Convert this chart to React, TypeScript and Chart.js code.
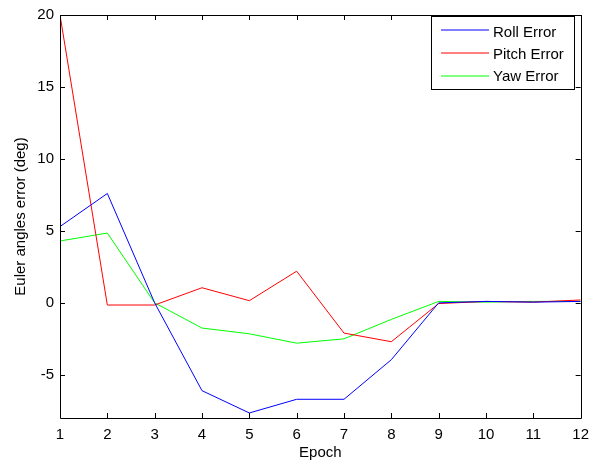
import React, { useEffect, useRef } from "react";
import { Chart, registerables } from "chart.js";

Chart.register(...registerables);

const epochs = [1, 2, 3, 4, 5, 6, 7, 8, 9, 10, 11, 12];
const rollError = [5.3, 7.6, 0.0, -6.1, -7.65, -6.7, -6.7, -3.95, 0.0, 0.1, 0.05, 0.1];
const pitchError = [20.0, -0.15, -0.15, 1.05, 0.15, 2.2, -2.1, -2.7, -0.05, 0.1, 0.05, 0.2];
const yawError = [4.3, 4.85, 0.0, -1.75, -2.15, -2.8, -2.5, -1.15, 0.1, 0.05, 0.1, 0.1];
const xTicks = [1, 2, 3, 4, 5, 6, 7, 8, 9, 10, 11, 12];
const yTicks = [-5, 0, 5, 10, 15, 20];
const seriesNames = ["Roll Error", "Pitch Error", "Yaw Error"];
const seriesColors = ["#0000ff", "#ff0000", "#00ff00"];

const FONT = "Arial, 'Liberation Sans', sans-serif";

const boxPlugin = {
  id: "matlabBox",
  afterDatasetsDraw(chart: any) {
    const { ctx, chartArea } = chart;
    const { left, right, top, bottom } = chartArea;
    const xs = chart.scales.x;
    const ys = chart.scales.y;
    ctx.save();
    ctx.strokeStyle = "#000";
    ctx.lineWidth = 1;
    ctx.beginPath();
    ctx.rect(Math.round(left) + 0.5, Math.round(top) + 0.5, Math.round(right - left), Math.round(bottom - top));
    ctx.stroke();
    const tl = 5;
    ctx.beginPath();
    for (const v of xTicks) {
      const px = Math.round(xs.getPixelForValue(v)) + 0.5;
      ctx.moveTo(px, bottom);
      ctx.lineTo(px, bottom - tl);
      ctx.moveTo(px, top);
      ctx.lineTo(px, top + tl);
    }
    for (const v of yTicks) {
      const py = Math.round(ys.getPixelForValue(v)) + 0.5;
      ctx.moveTo(left, py);
      ctx.lineTo(left + tl, py);
      ctx.moveTo(right, py);
      ctx.lineTo(right - tl, py);
    }
    ctx.stroke();

    // legend
    const lx = 431.5, ly = 16.5, lw = 143, lh = 73;
    ctx.fillStyle = "#fff";
    ctx.fillRect(lx, ly, lw, lh);
    ctx.strokeStyle = "#000";
    ctx.strokeRect(lx, ly, lw, lh);
    ctx.font = "15px " + FONT;
    ctx.textBaseline = "middle";
    ctx.textAlign = "left";
    const textRows = [33, 54.5, 76.5];
    const lineRows = [30, 53, 76];
    seriesNames.forEach((name, i) => {
      ctx.strokeStyle = seriesColors[i];
      ctx.beginPath();
      ctx.moveTo(441, lineRows[i]);
      ctx.lineTo(489, lineRows[i]);
      ctx.stroke();
      ctx.fillStyle = "#000";
      ctx.fillText(name, 493, textRows[i]);
    });
    ctx.restore();
  },
};

export default function App() {
  const ref = useRef<HTMLCanvasElement>(null);
  useEffect(() => {
    document.body.style.margin = "0";
    const mk = (vals: number[]) => epochs.map((e, i) => ({ x: e, y: vals[i] }));
    const chart = new Chart(ref.current!, {
      type: "line",
      data: {
        datasets: [rollError, pitchError, yawError].map((vals, i) => ({
          label: seriesNames[i],
          data: mk(vals),
          borderColor: seriesColors[i],
          backgroundColor: seriesColors[i],
          borderWidth: 1,
          pointRadius: 0,
          tension: 0,
        })),
      },
      options: {
        animation: false,
        responsive: false,
        layout: { padding: { top: 9, right: 16, left: 0, bottom: 0 } },
        plugins: { legend: { display: false }, tooltip: { enabled: false } },
        scales: {
          x: {
            type: "linear",
            min: 1,
            max: 12,
            grid: { display: false, drawTicks: false },
            border: { display: false },
            afterBuildTicks: (s: any) => {
              s.ticks = xTicks.map((v) => ({ value: v }));
            },
            afterFit: (s: any) => {
              s.height = 49;
            },
            ticks: { color: "#000", font: { family: FONT, size: 15 }, padding: 8, maxRotation: 0 },
            title: { display: true, text: "Epoch", color: "#000", font: { family: FONT, size: 15 }, padding: { top: 0, bottom: 5 } },
          },
          y: {
            type: "linear",
            min: -8,
            max: 20,
            grid: { display: false, drawTicks: false },
            border: { display: false },
            afterBuildTicks: (s: any) => {
              s.ticks = yTicks.map((v) => ({ value: v }));
            },
            afterFit: (s: any) => {
              s.width = 60;
            },
            ticks: { color: "#000", font: { family: FONT, size: 15 }, padding: 6 },
            title: { display: true, text: "Euler angles error (deg)", color: "#000", font: { family: FONT, size: 15 }, padding: { top: 12, bottom: 0 } },
          },
        },
      },
      plugins: [boxPlugin],
    });
    return () => chart.destroy();
  }, []);
  return (
    <div style={{ width: 597, height: 467 }}>
      <canvas ref={ref} width={597} height={467} style={{ display: "block" }} />
    </div>
  );
}
